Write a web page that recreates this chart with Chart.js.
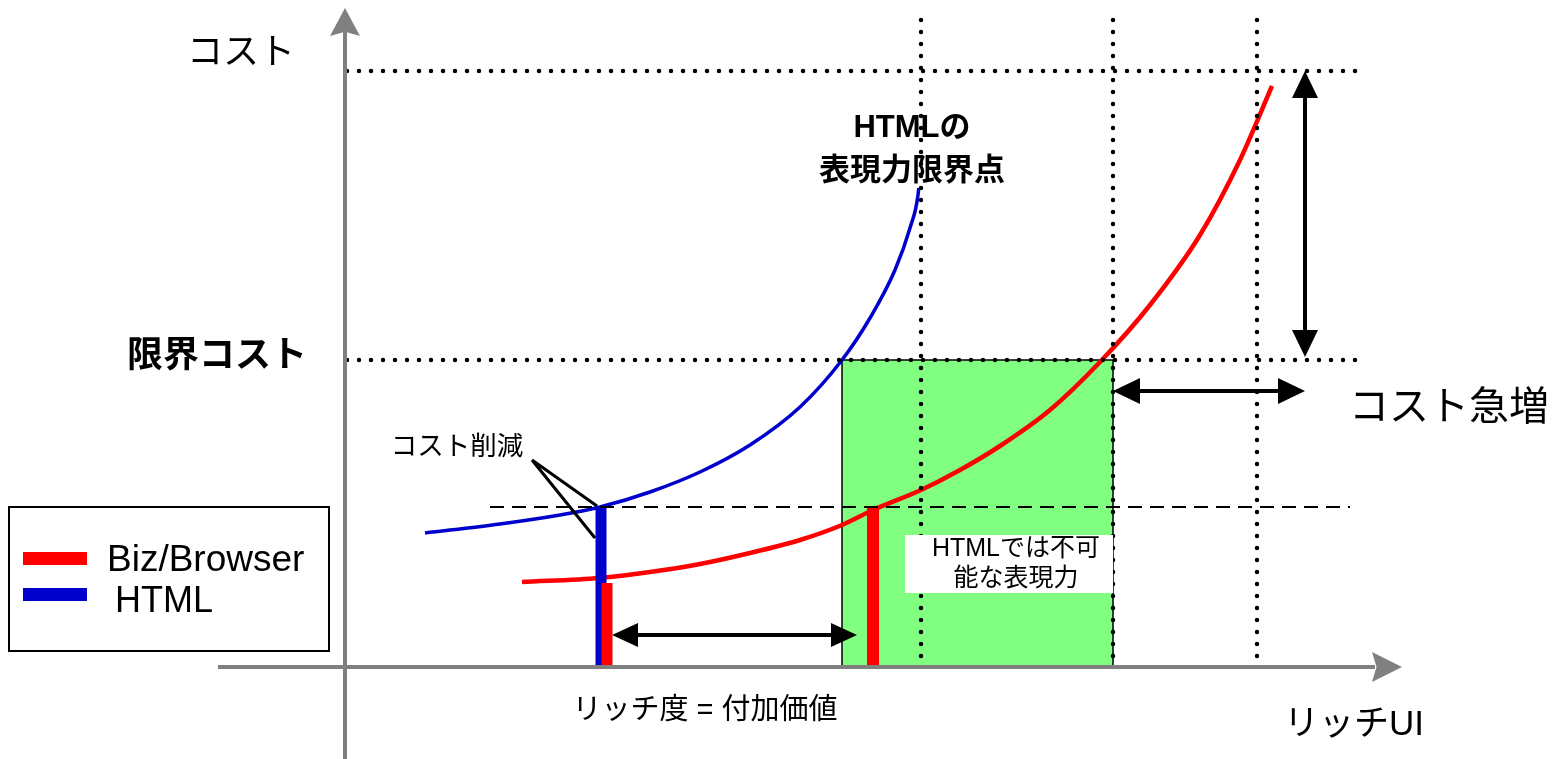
<!DOCTYPE html>
<html><head><meta charset="utf-8">
<script src="https://cdn.jsdelivr.net/npm/chart.js@4/dist/chart.umd.min.js"></script>
<style>html,body{margin:0;padding:0;background:#fff;}#wrap{width:1556px;height:759px;position:relative;}</style>
</head><body><div id="wrap"><canvas id="c"></canvas></div>
<script>
// ---- data (conceptual units: x = richness, y = cost) ----
const htmlCurveX = [0.80,1.55,2.15,2.55,3.05,3.55,4.05,4.55,4.97,5.25,5.50,5.65,5.73,5.77];
const htmlCurveY = [1.34,1.43,1.52,1.60,1.75,1.95,2.22,2.60,3.07,3.49,3.97,4.39,4.72,5.17];
const bizCurveX  = [1.77,2.55,3.05,3.55,4.05,4.55,4.97,5.28,5.76,6.15,6.55,7.05,7.55,8.05,8.55,8.95,9.27];
const bizCurveY  = [0.85,0.89,0.95,1.03,1.14,1.27,1.42,1.57,1.77,1.97,2.21,2.57,3.05,3.62,4.32,5.07,5.81];
const costLevels = [5.96, 3.07];          // top cost, limit cost (dotted)
const targetCost = 1.60;                  // dashed
const richLevels = [5.76, 7.68, 9.12];    // dotted verticals
const htmlBar = [2.56, 1.60];             // x, height
const bizBarLow = [2.62, 0.84];
const bizBarHigh = [5.28, 1.59];
const greenZone = [4.97, 7.68, 0, 3.07];  // x0,x1,y0,y1
const legendNames = ["Biz/Browser", "HTML"];

const X_MIN=-3.45, X_MAX=12.11, Y_MIN=-0.92, Y_MAX=6.67;
const RED='#ff0000', BLUE='#0000cc';
const FONT='"Liberation Sans","Noto Sans CJK JP",sans-serif';

function pts(xs, ys){ return xs.map((x,i)=>({x:x,y:ys[i]})); }
function bar(b){ return [{x:b[0],y:0},{x:b[0],y:b[1]}]; }

const overlay = {
  id:'overlay',
  beforeDatasetsDraw(chart){
    const c=chart.ctx, X=v=>chart.scales.x.getPixelForValue(v), Y=v=>chart.scales.y.getPixelForValue(v);
    c.save();
    const gx0=X(greenZone[0]), gx1=X(greenZone[1]), gy0=Y(greenZone[3]), gy1=Y(greenZone[2]);
    c.fillStyle='#80ff80'; c.fillRect(gx0,gy0,gx1-gx0,gy1-gy0);
    c.strokeStyle='#000'; c.lineWidth=1.5; c.strokeRect(gx0,gy0,gx1-gx0,gy1-gy0);
    c.restore();
  },
  afterDatasetsDraw(chart){
    const c=chart.ctx, X=v=>chart.scales.x.getPixelForValue(v), Y=v=>chart.scales.y.getPixelForValue(v);
    c.save();
    c.fillStyle='#fff'; c.fillRect(X(4.65),Y(5.59),X(6.70)-X(4.65),Y(4.79)-Y(5.59));
    c.strokeStyle='#000'; c.lineWidth=4.5; c.lineCap='round'; c.setLineDash([0,12]);
    costLevels.forEach(v=>{ c.beginPath(); c.moveTo(X(0.02),Y(v)); c.lineTo(X(10.20),Y(v)); c.stroke(); });
    richLevels.forEach(v=>{ c.beginPath(); c.moveTo(X(v),Y(6.47)); c.lineTo(X(v),Y(0)); c.stroke(); });
    c.lineCap='butt'; c.lineWidth=2; c.setLineDash([14,8]);
    c.beginPath(); c.moveTo(X(1.45),Y(targetCost)); c.lineTo(X(10.05),Y(targetCost)); c.stroke();
    c.setLineDash([]);
    c.fillStyle='#fff'; c.fillRect(X(5.60),Y(1.32),X(7.68)-X(5.60),Y(0.74)-Y(1.32));
    c.strokeStyle='#808080'; c.fillStyle='#808080'; c.lineWidth=4;
    c.beginPath(); c.moveTo(X(-1.27),Y(0)); c.lineTo(X(10.30),Y(0)); c.stroke();
    c.beginPath(); c.moveTo(X(0),Y(-0.92)); c.lineTo(X(0),Y(6.35)); c.stroke();
    head(c, X(10.57),Y(0), 0, 30, 15);
    head(c, X(0),Y(6.59), -Math.PI/2, 28, 15);
    c.strokeStyle='#000'; c.fillStyle='#000'; c.lineWidth=4;
    dbl(c, X(2.67),Y(0.32), X(5.12),Y(0.32), 26, 12);
    dbl(c, X(9.60),Y(5.96), X(9.60),Y(3.10), 27, 13);
    dbl(c, X(7.68),Y(2.76), X(9.60),Y(2.76), 27, 13);
    c.lineWidth=3;
    c.beginPath(); c.moveTo(X(1.87),Y(2.07)); c.lineTo(X(2.52),Y(1.61));
    c.moveTo(X(1.87),Y(2.07)); c.lineTo(X(2.50),Y(1.29)); c.stroke();
    c.fillStyle='#000'; c.textAlign='center'; c.textBaseline='middle';
    txt(c,'コスト',X(-1.04),Y(6.13),'36px');
    txt(c,'限界コスト',X(-1.28),Y(3.10),'bold 36px');
    txt(c,'HTMLの',X(5.67),Y(5.39),'bold 31px');
    txt(c,'表現力限界点',X(5.67),Y(4.96),'bold 31px');
    txt(c,'コスト急増',X(11.04),Y(2.58),'40px');
    txt(c,'リッチ度 = 付加価値',X(3.60),Y(-0.44),'29px');
    txt(c,'リッチUI',X(10.09),Y(-0.58),'35px');
    txt(c,'HTMLでは不可',X(6.71),Y(1.18),'25px');
    txt(c,'能な表現力',X(6.71),Y(0.88),'25px');
    txt(c,'コスト削減',X(1.12),Y(2.19),'26.5px');
    c.lineWidth=2; c.strokeStyle='#000'; c.strokeRect(9,507,320,144);
    c.fillStyle=RED; c.fillRect(23,552,64,13);
    c.fillStyle=BLUE; c.fillRect(23,588,64,13);
    c.fillStyle='#000'; c.textAlign='left';
    txt(c,legendNames[0],107,561,'37px');
    txt(c,legendNames[1],115,602,'36px');
    c.restore();
  }
};
function txt(c,s,x,y,f){ c.font=f+' '+FONT; c.fillText(s,x,y); }
function head(c,x,y,ang,len,hw){
  c.save(); c.translate(x,y); c.rotate(ang);
  c.beginPath(); c.moveTo(0,0); c.lineTo(-len,-hw); c.lineTo(-len*0.85,0); c.lineTo(-len,hw); c.closePath(); c.fill();
  c.restore();
}
function tri(c,x,y,ang,len,hw){
  c.save(); c.translate(x,y); c.rotate(ang);
  c.beginPath(); c.moveTo(0,0); c.lineTo(-len,-hw); c.lineTo(-len,hw); c.closePath(); c.fill();
  c.restore();
}
function dbl(c,x1,y1,x2,y2,len,hw){
  const a=Math.atan2(y2-y1,x2-x1);
  const ux=Math.cos(a), uy=Math.sin(a);
  c.beginPath(); c.moveTo(x1+ux*len*0.9,y1+uy*len*0.9); c.lineTo(x2-ux*len*0.9,y2-uy*len*0.9); c.stroke();
  tri(c,x2,y2,a,len,hw); tri(c,x1,y1,a+Math.PI,len,hw);
}

const lineDs = (data,color,w,order)=>({data:data,order:order,showLine:true,borderColor:color,backgroundColor:color,borderWidth:w,pointRadius:0,fill:false,cubicInterpolationMode:'monotone',borderCapStyle:'butt'});
new Chart(document.getElementById('c'),{
  type:'scatter',
  data:{datasets:[
    lineDs(pts(htmlCurveX,htmlCurveY),BLUE,3.5,4),
    lineDs(pts(bizCurveX,bizCurveY),RED,4.5,3),
    lineDs(bar(htmlBar),BLUE,11,2),
    lineDs(bar(bizBarLow),RED,11,0),
    lineDs(bar(bizBarHigh),RED,12,0)
  ]},
  options:{
    responsive:true, maintainAspectRatio:false, animation:false, devicePixelRatio:1,
    layout:{padding:0},
    plugins:{legend:{display:false},tooltip:{enabled:false}},
    scales:{
      x:{type:'linear',min:X_MIN,max:X_MAX,display:false},
      y:{type:'linear',min:Y_MIN,max:Y_MAX,display:false}
    }
  },
  plugins:[overlay]
});
</script></body></html>
